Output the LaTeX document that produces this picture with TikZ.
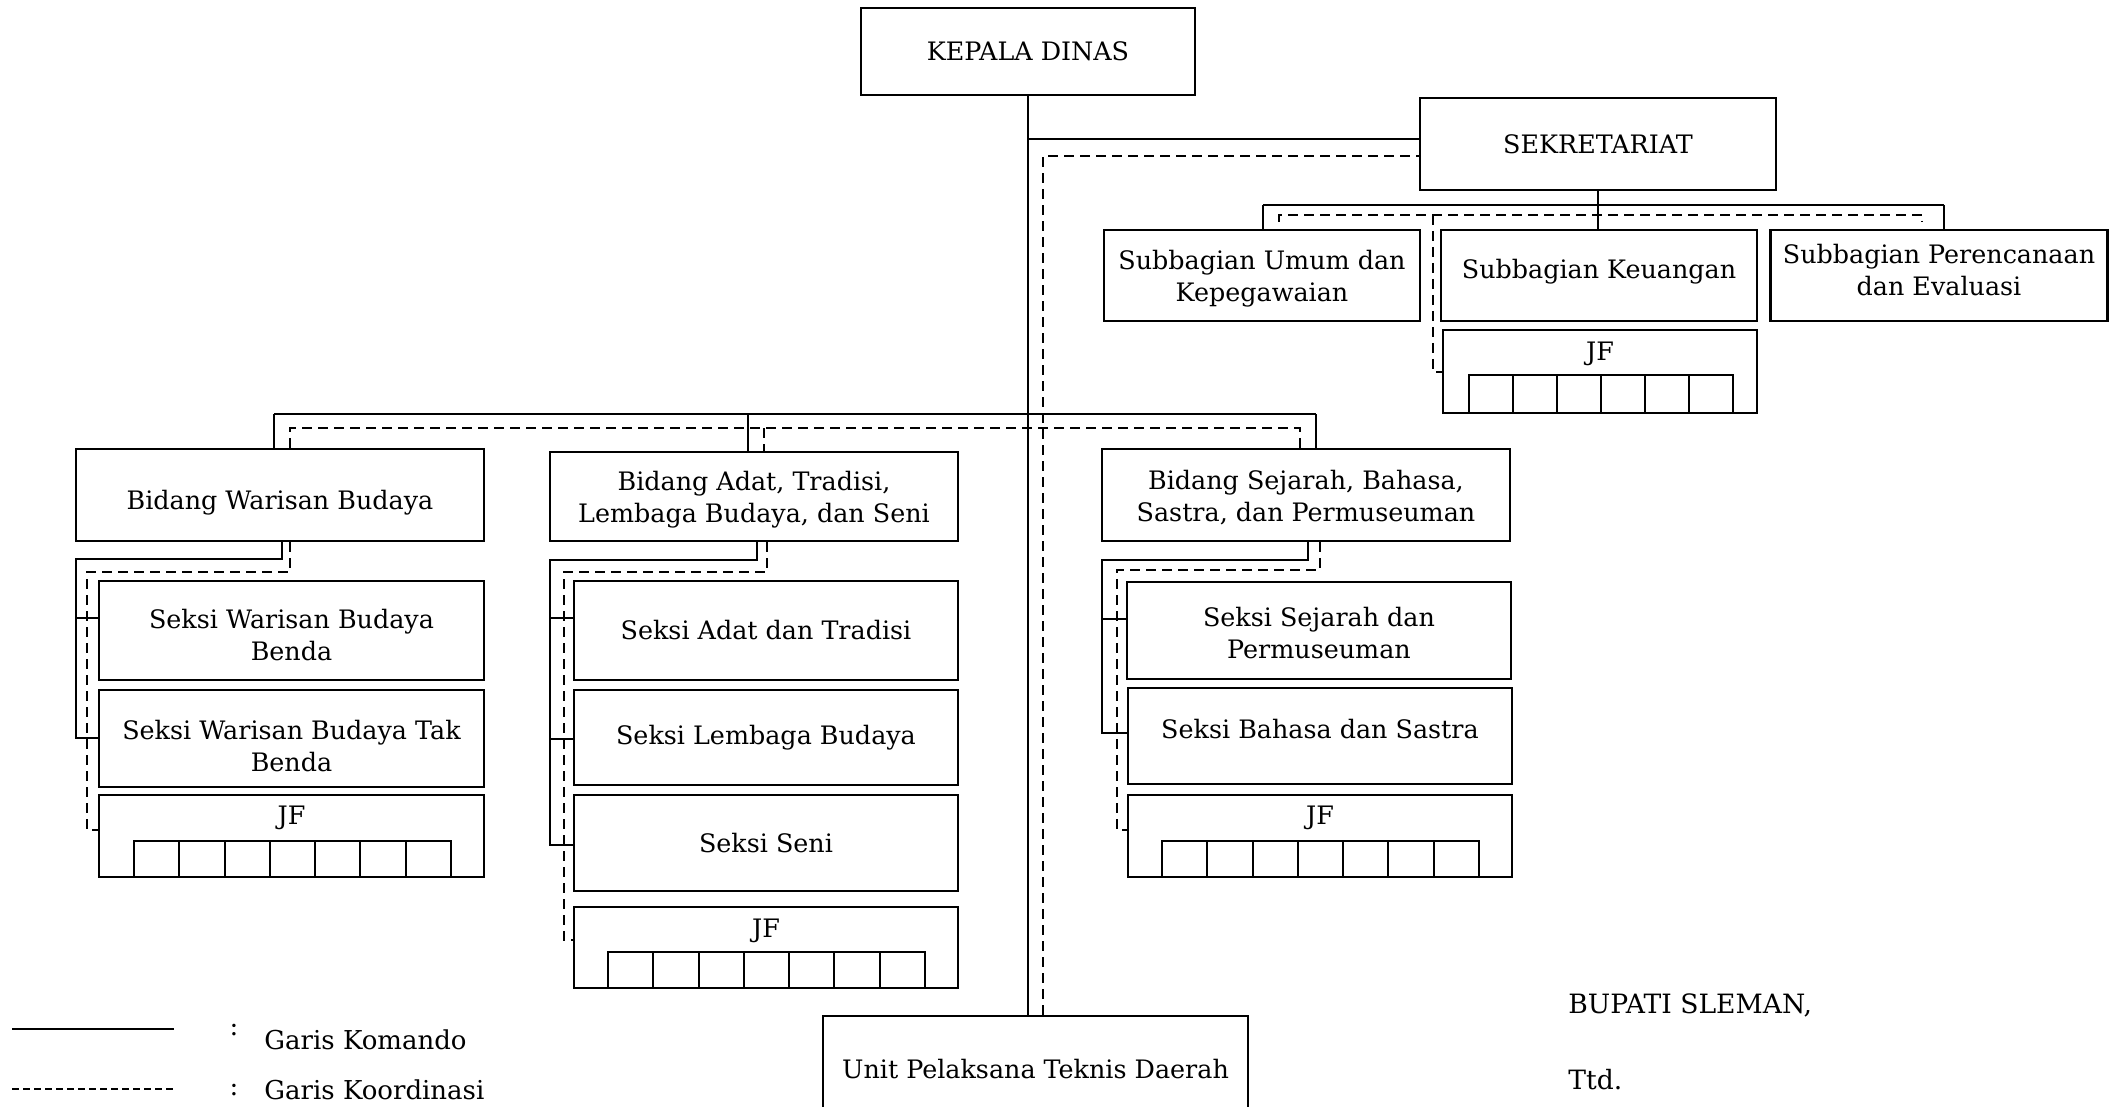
\documentclass[tikz,border=0pt]{standalone}
\usepackage{fontspec}
\setmainfont{DejaVu Serif}
\newcommand\jfgrid[6]{%
  \draw[gridline] (#1,#3) rectangle (#2,#4);
  \foreach \i in {1,...,#6} {\draw[gridline] ({#1+\i*(#2-#1)/#5},#3) -- ({#1+\i*(#2-#1)/#5},#4);}%
}
\begin{document}
\begin{tikzpicture}[x=0.5pt,y=-0.5pt,
  box/.style={draw, line width=1.2pt, inner sep=2pt, align=center, font=\fontsize{12.7}{16}\selectfont},
  lbl/.style={inner sep=1pt, align=center, font=\fontsize{12.7}{16}\selectfont},
  cmd/.style={line width=0.9pt},
  crd/.style={line width=0.9pt, dash pattern=on 5pt off 3pt},
  gridline/.style={line width=1pt},
]
\fill[white] (0,0) rectangle (2116,1107);
\useasboundingbox (0,0) rectangle (2116,1107);

% top
\node[box, minimum width=167pt, minimum height=43.5pt] (kepala) at (1028,51.5) {KEPALA DINAS};
\node[box, minimum width=178pt, minimum height=46pt] (sekr) at (1598,144) {SEKRETARIAT};
\node[box, minimum width=158pt, minimum height=45.5pt, label={[lbl, yshift=-1.5pt]center:{Subbagian Umum dan\\Kepegawaian}}] (sub1) at (1262,275.5) {};
\node[box, minimum width=158pt, minimum height=45.5pt, label={[lbl, yshift=2pt]center:{Subbagian Keuangan}}] (sub2) at (1599,275.5) {};
\node[box, minimum width=168.5pt, minimum height=45.5pt, label={[lbl, yshift=2.5pt]center:{Subbagian Perencanaan\\dan Evaluasi}}] (sub3) at (1939,275.5) {};
\node[box, minimum width=157pt, minimum height=41.5pt] (jfk) at (1600,371.5) {};
\node[lbl] (jfkl) at (1600,354) {JF};
\jfgrid{1469}{1733}{375}{413}{6}{5}

% left column
\node[box, minimum width=204pt, minimum height=46pt, label={[lbl, yshift=-4pt]center:{Bidang Warisan Budaya}}] (bid1) at (280,495) {};
\node[box, minimum width=192.5pt, minimum height=49.5pt, label={[lbl, yshift=-2.5pt]center:{Seksi Warisan Budaya\\Benda}}] (s11) at (291.5,630.5) {};
\node[box, minimum width=192.5pt, minimum height=48.5pt, label={[lbl, yshift=-4pt]center:{Seksi Warisan Budaya Tak\\Benda}}] (s12) at (291.5,738.5) {};
\node[box, minimum width=192.5pt, minimum height=41pt] (jf1) at (291.5,836) {};
\node[lbl] (jf1l) at (291.5,818) {JF};
\jfgrid{134}{451}{841}{877}{7}{6}

% middle column
\node[box, minimum width=204pt, minimum height=44.5pt, label={[lbl, yshift=-1.5pt]center:{Bidang Adat, Tradisi,\\Lembaga Budaya, dan Seni}}] (bid2) at (754,496.5) {};
\node[box, minimum width=192pt, minimum height=49.5pt] (s21) at (766,630.5) {Seksi Adat dan Tradisi};
\node[box, minimum width=192pt, minimum height=47.5pt] (s22) at (766,737.5) {Seksi Lembaga Budaya};
\node[box, minimum width=192pt, minimum height=48pt] (s23) at (766,843) {Seksi Seni};
\node[box, minimum width=192pt, minimum height=40.5pt] (jf2) at (766,947.5) {};
\node[lbl] (jf2l) at (766,931) {JF};
\jfgrid{608}{925}{952}{988}{7}{6}

% right column
\node[box, minimum width=204pt, minimum height=46pt, label={[lbl, yshift=-1.5pt]center:{Bidang Sejarah, Bahasa,\\Sastra, dan Permuseuman}}] (bid3) at (1306,495) {};
\node[box, minimum width=192pt, minimum height=48.5pt, label={[lbl, yshift=-1.5pt]center:{Seksi Sejarah dan\\Permuseuman}}] (s31) at (1319,630.5) {};
\node[box, minimum width=192pt, minimum height=48pt, text depth=7pt] (s32) at (1320,736) {Seksi Bahasa dan Sastra};
\node[box, minimum width=192pt, minimum height=41pt] (jf3) at (1320,836) {};
\node[lbl] (jf3l) at (1320,818) {JF};
\jfgrid{1162}{1479}{841}{877}{7}{6}

% UPT
\node[box, minimum width=212.5pt, minimum height=53pt] (upt) at (1035.5,1069) {Unit Pelaksana Teknis Daerah};

% main connectors
\coordinate (j1) at (1028,139);
\draw[cmd] (kepala.south) -- (kepala.south |- upt.north);
\draw[cmd] (j1) -- (j1 -| sekr.west);
\coordinate (d1) at (1043,156);
\draw[crd] (d1 |- upt.north) -- (d1) -- (d1 -| sekr.west);

% sekretariat connectors
\coordinate (sb) at (1600,205);
\coordinate (sb1) at (1263,205);
\coordinate (sb3) at (1944,205);
\draw[cmd] (sekr.south) -- (sekr.south |- sb);
\draw[cmd] (sb1) -- (sb3);
\draw[cmd] (sb1) -- (sb1 |- sub1.north);
\draw[cmd] (sekr.south |- sb) -- (sekr.south |- sub2.north);
\draw[cmd] (sb3) -- (sb3 |- sub3.north);
\coordinate (sd1) at (1279,215);
\coordinate (sd1e) at (1279,222);
\coordinate (sd3) at (1922,215);
\coordinate (sd3e) at (1922,222);
\coordinate (sdk) at (1433,215);
\coordinate (sdkb) at (1433,372);
\draw[crd] (sd1e) -- (sd1) -- (sd3) -- (sd3e);
\draw[crd] (sdk) -- (sdkb) -- (sdkb -| jfk.west);

% bidang bus
\coordinate (b1) at (274,414);
\coordinate (b2) at (748,414);
\coordinate (b3) at (1316,414);
\draw[cmd] (b1) -- (b3);
\draw[cmd] (b1) -- (b1 |- bid1.north);
\draw[cmd] (b2) -- (b2 |- bid2.north);
\draw[cmd] (b3) -- (b3 |- bid3.north);
\coordinate (c1) at (290,428);
\coordinate (c2) at (764,428);
\coordinate (c3) at (1300,428);
\draw[crd] (c1 |- bid1.north) -- (c1) -- (c3) -- (c3 |- bid3.north);
\draw[crd] (c2) -- (c2 |- bid2.north);

% bidang 1 children
\coordinate (e1) at (282,559);
\coordinate (e1l) at (76,559);
\coordinate (t11) at (76,618);
\coordinate (t12) at (76,738);
\draw[cmd] (e1 |- bid1.south) -- (e1) -- (e1l) -- (t12) -- (t12 -| s12.west);
\draw[cmd] (t11) -- (t11 -| s11.west);
\coordinate (f1) at (290,572);
\coordinate (f1l) at (87,572);
\coordinate (f1b) at (87,830);
\draw[crd] (f1 |- bid1.south) -- (f1) -- (f1l) -- (f1b) -- (f1b -| jf1.west);

% bidang 2 children
\coordinate (e2) at (757,560);
\coordinate (e2l) at (550,560);
\coordinate (t21) at (550,618);
\coordinate (t22) at (550,739);
\coordinate (t23) at (550,845);
\draw[cmd] (e2 |- bid2.south) -- (e2) -- (e2l) -- (t23) -- (t23 -| s23.west);
\draw[cmd] (t21) -- (t21 -| s21.west);
\draw[cmd] (t22) -- (t22 -| s22.west);
\coordinate (f2) at (767,572);
\coordinate (f2l) at (564,572);
\coordinate (f2b) at (564,940);
\draw[crd] (f2 |- bid2.south) -- (f2) -- (f2l) -- (f2b) -- (f2b -| jf2.west);

% bidang 3 children
\coordinate (e3) at (1308,560);
\coordinate (e3l) at (1102,560);
\coordinate (t31) at (1102,619);
\coordinate (t32) at (1102,733);
\draw[cmd] (e3 |- bid3.south) -- (e3) -- (e3l) -- (t32) -- (t32 -| s32.west);
\draw[cmd] (t31) -- (t31 -| s31.west);
\coordinate (f3) at (1320,570);
\coordinate (f3l) at (1117,570);
\coordinate (f3b) at (1117,830);
\draw[crd] (f3 |- bid3.south) -- (f3) -- (f3l) -- (f3b) -- (f3b -| jf3.west);

% legend
\coordinate (l1a) at (12,1029);
\coordinate (l1b) at (174,1029);
\coordinate (l2a) at (12,1089);
\coordinate (l2b) at (174,1089);
\draw[line width=1.2pt] (l1a) -- (l1b);
\draw[line width=1pt, dash pattern=on 3.5pt off 2pt] (l2a) -- (l2b);
\node[lbl, font=\fontsize{13}{16}\selectfont] (col1) at (234,1030) {:};
\node[lbl, anchor=west, font=\fontsize{13}{16}\selectfont] (leg1) at (262,1040) {Garis Komando};
\node[lbl, font=\fontsize{13}{16}\selectfont] (col2) at (234,1090) {:};
\node[lbl, anchor=west, font=\fontsize{13}{16}\selectfont] (leg2) at (262,1090) {Garis Koordinasi};

% signature
\node[lbl, anchor=west, font=\fontsize{13.3}{16}\selectfont] (bup) at (1566,1005) {BUPATI SLEMAN,};
\node[lbl, anchor=west, font=\fontsize{13.3}{16}\selectfont] (ttd) at (1566,1080) {Ttd.};
\end{tikzpicture}
\end{document}
